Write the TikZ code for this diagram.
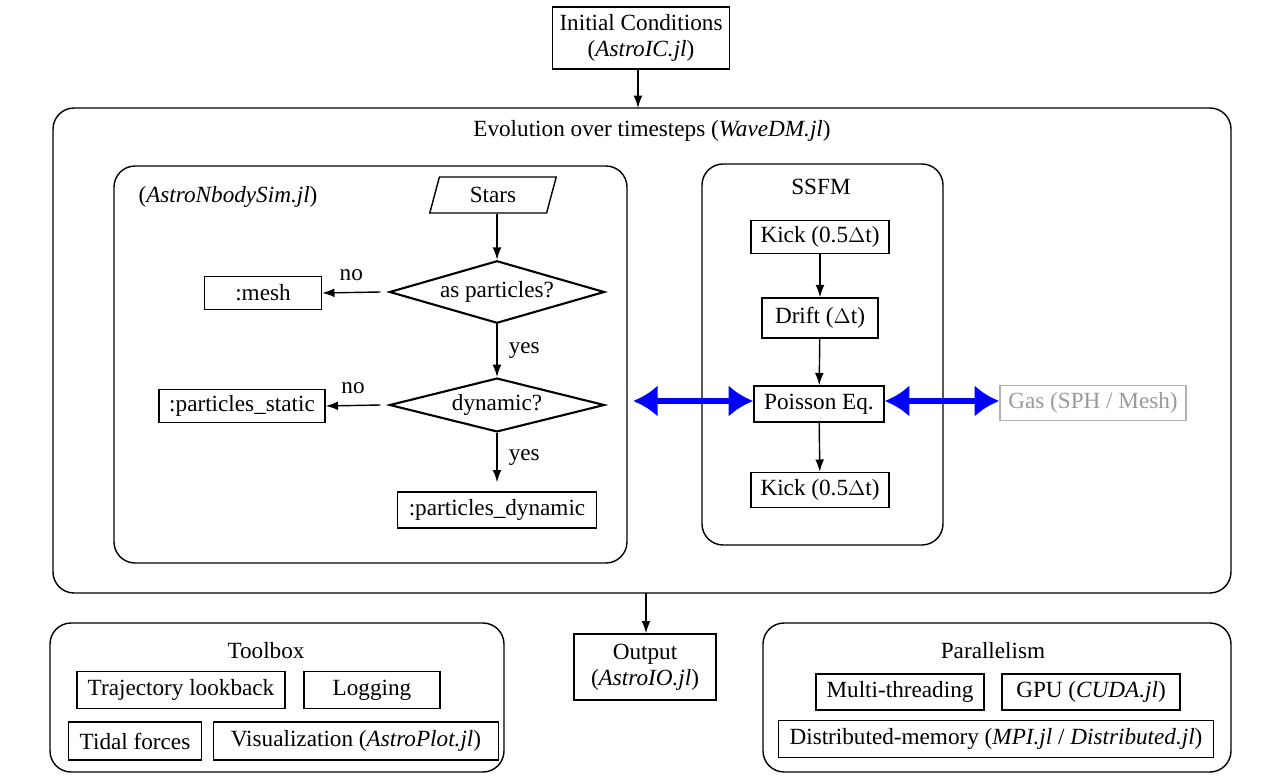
\documentclass[tikz,border=0pt]{standalone}
\usepackage{fontspec}
\setmainfont{Liberation Serif}
\usetikzlibrary{arrows.meta,shapes.geometric}
\begin{document}
\begin{tikzpicture}[x=0.02cm,y=-0.02cm,font=\fontsize{13.2}{15}\selectfont,
  box/.style={draw,thick,inner sep=0pt,align=center},
  frame/.style={draw,thick,rounded corners=12pt},
  dia/.style={draw,very thick,diamond,aspect=2.75,inner sep=0pt,minimum width=215*0.02cm},
  arr/.style={thick,-{Latex[length=7pt,width=5pt]}},
  big/.style={line width=3pt,{Latex[length=14pt,width=18pt]}-{Latex[length=14pt,width=18pt]},blue}]
\useasboundingbox (0,0) rectangle (1279,784);
% top
\node[box,minimum width=177*0.02cm,minimum height=62*0.02cm] (ic) at (641,38) {Initial Conditions\\(\textit{AstroIC.jl})};
\draw[frame] (53,108) rectangle (1231,593);
\coordinate (bigtop) at (638,108);
\coordinate (bigbot) at (646,593);
\node (evt) at (652,131) {Evolution over timesteps (\textit{WaveDM.jl})};
\draw[arr] (ic.south -| bigtop) -- (bigtop);
% left inner
\draw[frame] (114,166) rectangle (627,563);
\node (nb) at (228,197) {(\textit{AstroNbodySim.jl})};
\node[draw,thick,trapezium,trapezium left angle=75,trapezium right angle=105,minimum width=125*0.02cm,minimum height=36*0.02cm,inner sep=0pt] (stars) at (493,195) {Stars};
\node[dia] (d1) at (497,292) {as particles?};
\node[dia] (d2) at (497,405) {dynamic?};
\node[box,minimum width=117*0.02cm,minimum height=33*0.02cm] (mesh) at (263,293) {:mesh};
\node[box,minimum width=166*0.02cm,minimum height=33*0.02cm] (ps) at (242,406) {:particles\_static};
\node[box,minimum width=199*0.02cm,minimum height=36*0.02cm] (pd) at (497,510) {:particles\_dynamic};
\draw[arr] (stars.south -| d1) -- (d1.north);
\coordinate (c1) at ([xshift=-0.16cm]d1.west);
\coordinate (c2) at ([xshift=-0.16cm]d2.west);
\draw[arr] (c1) -- (mesh.east) node[midway,above=3pt] {no};
\draw[arr] (d1.south) -- (d2.north) node[midway,right=3pt] {yes};
\draw[arr] (c2) -- (ps.east) node[midway,above=3pt] {no};
\draw[arr] (d2.south) -- ([yshift=0.18cm]pd.north) node[midway,right=3pt] {yes};
% SSFM
\draw[frame] (702,164) rectangle (943,545);
\node (ssfm) at (821,187) {SSFM};
\node[box,minimum width=138*0.02cm,minimum height=33*0.02cm] (k1) at (820,237) {Kick (0.5$\Delta$t)};
\node[box,minimum width=116*0.02cm,minimum height=40*0.02cm] (dr) at (820,318) {Drift ($\Delta$t)};
\node[box,minimum width=130*0.02cm,minimum height=36*0.02cm] (po) at (819,404) {Poisson Eq.};
\node[box,minimum width=138*0.02cm,minimum height=35*0.02cm] (k2) at (820,490) {Kick (0.5$\Delta$t)};
\draw[arr] (k1) -- (dr);
\draw[arr] (dr) -- (po);
\draw[arr] (po) -- (k2);
\node[box,draw=gray!60,text=gray!80,minimum width=186*0.02cm,minimum height=35*0.02cm] (gas) at (1093,403) {Gas (SPH / Mesh)};
\coordinate (nbr) at (633,401);
\draw[big] (nbr) -- (po.west |- nbr);
\draw[big] (po.east |- nbr) -- (gas.west |- nbr);
% output
\node[box,minimum width=142*0.02cm,minimum height=66*0.02cm] (out) at (645,667) {Output\\(\textit{AstroIO.jl})};
\draw[arr] (bigbot) -- (bigbot |- out.north);
% toolbox
\draw[frame] (50,623) rectangle (504,772);
\node (tb) at (266,651) {Toolbox};
\node[box,minimum width=208*0.02cm,minimum height=37*0.02cm] (tl) at (181,690) {Trajectory lookback};
\node[box,minimum width=136*0.02cm,minimum height=37*0.02cm] (lg) at (372,690) {Logging};
\node[box,minimum width=133*0.02cm,minimum height=38*0.02cm] (tf) at (135,741) {Tidal forces};
\node[box,minimum width=285*0.02cm,minimum height=38*0.02cm] (vz) at (356,741) {Visualization (\textit{AstroPlot.jl})};
% parallelism
\draw[frame] (763,623) rectangle (1231,772);
\node (pl) at (993,651) {Parallelism};
\node[box,minimum width=168*0.02cm,minimum height=36*0.02cm] (mt) at (900,692) {Multi-threading};
\node[box,minimum width=178*0.02cm,minimum height=36*0.02cm] (gpu) at (1091,692) {GPU (\textit{CUDA.jl})};
\node[box,minimum width=435*0.02cm,minimum height=37*0.02cm] (dm) at (996,739) {Distributed-memory (\textit{MPI.jl} / \textit{Distributed.jl})};
\end{tikzpicture}
\end{document}
